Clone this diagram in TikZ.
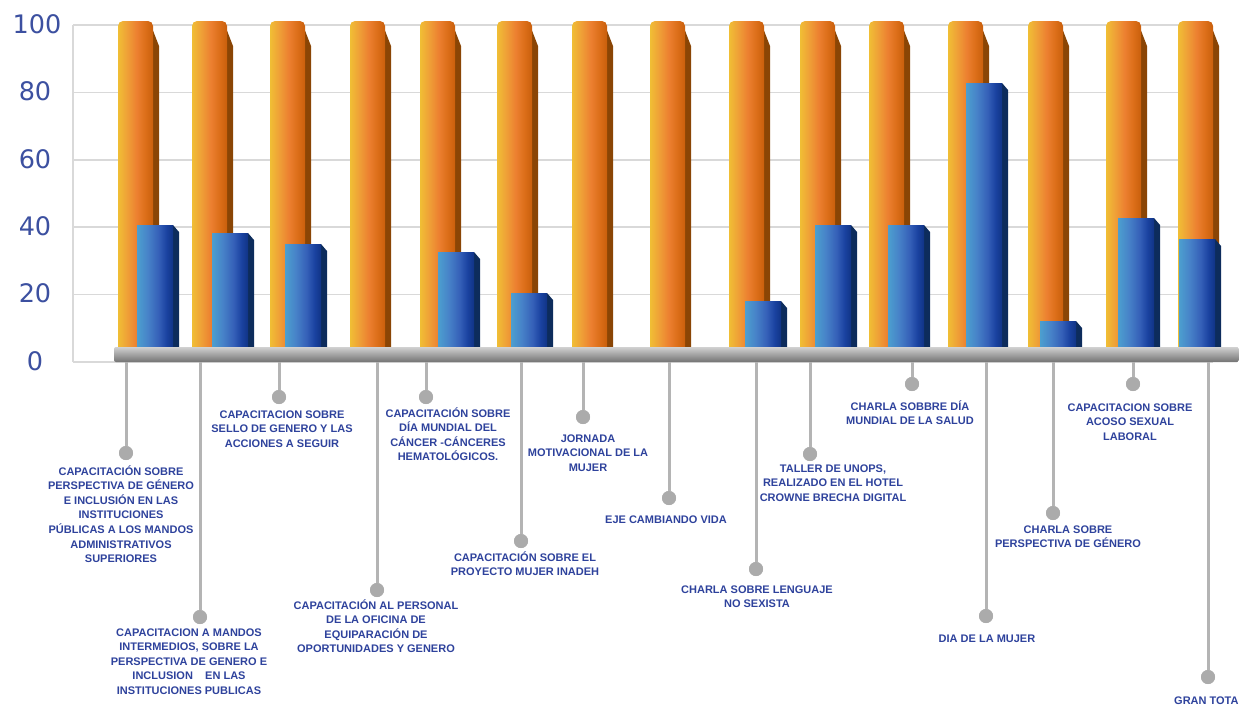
\documentclass[tikz,border=0pt]{standalone}
\usepackage{fontspec}
\setmainfont{Liberation Sans}
\newfontfamily\numfont{DejaVu Sans}
\definecolor{ob1}{HTML}{F0BE35}
\definecolor{ob2}{HTML}{EFA037}
\definecolor{ob3}{HTML}{EC7F30}
\definecolor{ob4}{HTML}{DC6E19}
\definecolor{ob5}{HTML}{C95F0C}
\definecolor{oside}{HTML}{8A4505}
\definecolor{bb1}{HTML}{4C9FCF}
\definecolor{bb2}{HTML}{4782C8}
\definecolor{bb3}{HTML}{3560B8}
\definecolor{bb4}{HTML}{1A42A0}
\definecolor{bb5}{HTML}{103486}
\definecolor{bside}{HTML}{0D2C5C}
\definecolor{gridc}{HTML}{D9D9D9}
\definecolor{txtblue}{HTML}{2E429C}
\definecolor{numblue}{HTML}{3C50A0}
\definecolor{connc}{HTML}{B4B4B4}
\definecolor{dotc}{HTML}{ABABAB}
\pgfdeclarehorizontalshading{orangebar}{100bp}{color(0bp)=(ob1); color(25bp)=(ob1); color(38bp)=(ob2); color(52bp)=(ob3); color(64bp)=(ob4); color(75bp)=(ob5); color(100bp)=(ob5)}
\pgfdeclarehorizontalshading{bluebar}{100bp}{color(0bp)=(bb1); color(25bp)=(bb1); color(40bp)=(bb2); color(55bp)=(bb3); color(66bp)=(bb4); color(75bp)=(bb5); color(100bp)=(bb5)}
\tikzset{
  gridline/.style={draw=gridc, line width=1.6pt},
  conn/.style={draw=connc, line width=3pt},
  dot/.style={circle, fill=dotc, minimum size=14pt, inner sep=0pt},
  lab/.style={anchor=north, align=center, inner sep=0pt, text=txtblue,
    font=\fontsize{11}{14.6}\selectfont\bfseries},
  ylab/.style={text=numblue, inner sep=0pt, font=\numfont\fontsize{25.5}{28}\selectfont},
}
\begin{document}
\begin{tikzpicture}[x=1pt,y=-1pt]
\useasboundingbox (0,0) rectangle (1239,705);
% grid
\foreach \gy in {25,92.4,159.8,227.2,294.6,362} {
  \draw[gridline] (73,\gy) -- (1213,\gy);
}
\draw[gridline] (73,25) -- (73,362);
% y labels
\node[ylab] (y100) at (37,24) {100};
\node[ylab] (y80) at (35,91.4) {80};
\node[ylab] (y60) at (35,158.8) {60};
\node[ylab] (y40) at (35,226.2) {40};
\node[ylab] (y20) at (35,293.6) {20};
\node[ylab] (y0) at (35,361) {0};
% orange bars
\foreach \L in {118,192,270,350,420,497,572,650,729,800,869,948,1028,1106,1178} {
  \fill[oside] (\L+34,28) -- (\L+41,46) -- (\L+41,348) -- (\L+34,348) -- cycle;
  \shade[shading=orangebar, rounded corners=5pt] (\L,352) -- (\L,21) -- (\L+35,21) -- (\L+35,352) -- cycle;
}
% blue bars
\foreach \B/\T in {137/225,212/233,285/244,438/252,511/293,745/301,815/225,888/225,966/83,1040/321,1118/218,1179/239} {
  \fill[bside] (\B+36,\T) -- (\B+42,\T+7) -- (\B+42,348) -- (\B+36,348) -- cycle;
  \shade[shading=bluebar] (\B,348) rectangle (\B+36,\T);
}
% floor
\shade[top color=black!18, middle color=black!32, bottom color=black!55, rounded corners=2pt] (114,347) rectangle (1239,362);
% connectors and dots
\foreach \i/\cx/\dy in {1/126/453,2/200/617,3/279/397,4/377/590,5/426/397,6/521/541,7/583/417,8/669/498,9/756/569,10/810/454,11/912/384,12/986/616,13/1053/513,14/1133/384,15/1208/677} {
  \coordinate (c\i) at (\cx,362);
  \node[dot] (d\i) at (\cx,\dy) {};
  \draw[conn] (c\i) -- (d\i);
  \node[dot] at (d\i) {};
}
% labels
\node[lab] (l1) at (121,464.6) {\strut CAPACITACIÓN SOBRE\\PERSPECTIVA DE GÉNERO\\E INCLUSIÓN EN LAS\\INSTITUCIONES\\PÚBLICAS A LOS MANDOS\\ADMINISTRATIVOS\\SUPERIORES};
\node[lab] (l2) at (189,625.6) {\strut CAPACITACION A MANDOS\\INTERMEDIOS, SOBRE LA\\PERSPECTIVA DE GENERO E\\INCLUSION \ \ \ EN LAS\\INSTITUCIONES PUBLICAS};
\node[lab] (l3) at (282,407.6) {\strut CAPACITACION SOBRE\\SELLO DE GENERO Y LAS\\ACCIONES A SEGUIR};
\node[lab] (l4) at (376,598.6) {\strut CAPACITACIÓN AL PERSONAL\\DE LA OFICINA DE\\EQUIPARACIÓN DE\\OPORTUNIDADES Y GENERO};
\node[lab] (l5) at (448,406.6) {\strut CAPACITACIÓN SOBRE\\DÍA MUNDIAL DEL\\CÁNCER -CÁNCERES\\HEMATOLÓGICOS.};
\node[lab] (l6) at (525,550.6) {\strut CAPACITACIÓN SOBRE EL\\PROYECTO MUJER INADEH};
\node[lab] (l7) at (588,431.6) {\strut JORNADA\\MOTIVACIONAL DE LA\\MUJER};
\node[lab] (l8) at (666,512.6) {\strut EJE CAMBIANDO VIDA};
\node[lab] (l9) at (757,582.6) {\strut CHARLA SOBRE LENGUAJE\\NO SEXISTA};
\node[lab] (l10) at (833,461.6) {\strut TALLER DE UNOPS,\\REALIZADO EN EL HOTEL\\CROWNE BRECHA DIGITAL};
\node[lab] (l11) at (910,399.6) {\strut CHARLA SOBBRE DÍA\\MUNDIAL DE LA SALUD};
\node[lab] (l12) at (987,631.6) {\strut DIA DE LA MUJER};
\node[lab] (l13) at (1068,522.6) {\strut CHARLA SOBRE\\PERSPECTIVA DE GÉNERO};
\node[lab] (l14) at (1130,400.6) {\strut CAPACITACION SOBRE\\ACOSO SEXUAL\\LABORAL};
\node[lab, anchor=north west] (l15) at (1174,693.6) {\strut GRAN TOTA};
\end{tikzpicture}
\end{document}
